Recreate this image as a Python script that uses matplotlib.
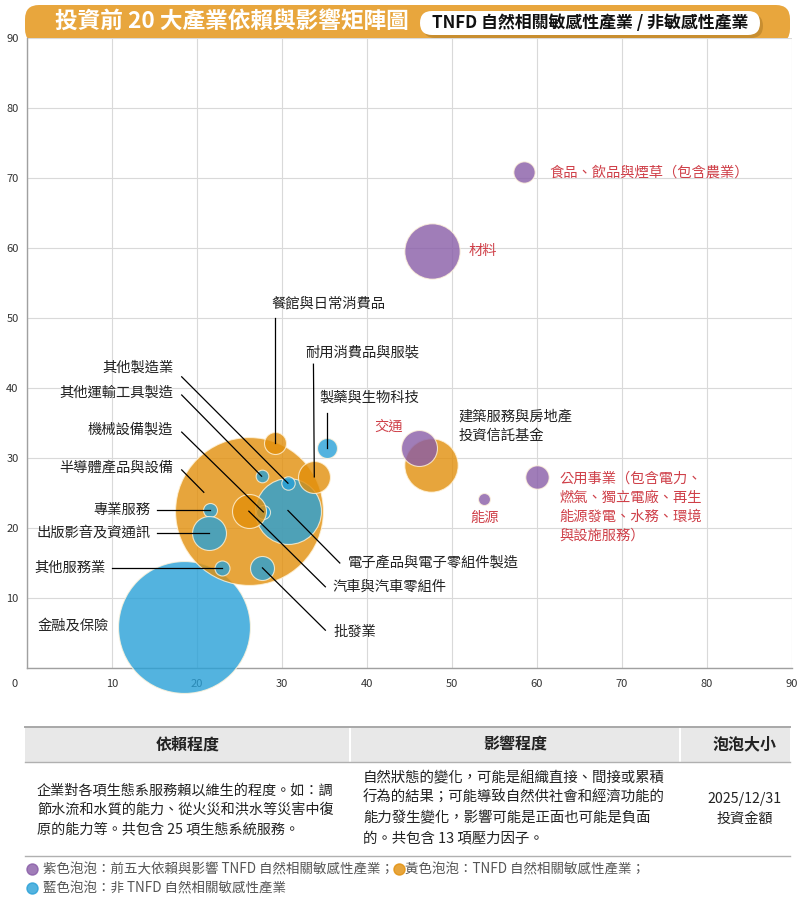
import matplotlib
matplotlib.use("Agg")
import matplotlib.pyplot as plt
from matplotlib.patches import FancyBboxPatch, Rectangle
from matplotlib.lines import Line2D
from matplotlib.transforms import ScaledTranslation

plt.rcParams['font.family'] = ['Noto Sans CJK TC', 'DejaVu Sans']

# ---- data ----
names = ['金融及保險', '半導體產品與設備', '電子產品與電子零組件製造', '餐館與日常消費品',
         '耐用消費品與服裝', '製藥與生物科技', '其他製造業', '其他運輸工具製造',
         '機械設備製造', '汽車與汽車零組件', '專業服務', '出版影音及資通訊',
         '其他服務業', '批發業', '食品、飲品與煙草（包含農業）', '材料',
         '建築服務與房地產', '交通', '公用事業', '能源']
dependency = [18.5, 26.1, 30.7, 29.2, 33.8, 35.3, 30.7, 27.6, 27.8, 26.1,
              21.5, 21.4, 23.0, 27.7, 58.5, 47.7, 47.5, 46.1, 60.0, 53.8]
impact = [5.9, 22.4, 22.5, 32.1, 27.3, 31.4, 26.4, 27.4, 22.3, 22.4,
          22.6, 19.3, 14.3, 14.3, 70.8, 59.6, 29.0, 31.4, 27.3, 24.1]
amount = [4356, 5476, 1089, 121, 256, 100, 45, 40, 49, 289,
          49, 289, 56, 144, 114, 767, 713, 324, 137, 36]
group = ['blue', 'orange', 'blue', 'orange', 'orange', 'blue', 'blue', 'blue',
         'blue', 'orange', 'blue', 'blue', 'blue', 'blue', 'purple', 'purple',
         'orange', 'purple', 'purple', 'purple']

xticks = [0, 10, 20, 30, 40, 50, 60, 70, 80, 90]
yticks = [0, 10, 20, 30, 40, 50, 60, 70, 80, 90]

colors = {'purple': (136/255, 92/255, 167/255),
          'orange': (226/255, 143/255, 11/255),
          'blue': (40/255, 160/255, 215/255)}
red = '#CF4049'
ink = '#222222'

# label layout: name -> (text lines, x, y, ha, color, line start, line end override)
labels = {
    '食品、飲品與煙草（包含農業）': (['食品、飲品與煙草（包含農業）'], 61.4, 70.8, 'left', red, None, None),
    '材料': (['材料'], 51.9, 59.6, 'left', red, None, None),
    '交通': (['交通'], 40.9, 34.4, 'left', red, None, None),
    '建築服務與房地產': (['建築服務與房地產', '投資信託基金'], 50.8, 35.9, 'left', ink, None, None),
    '公用事業': (['公用事業（包含電力、', '燃氣、獨立電廠、再生', '能源發電、水務、環境', '與設施服務）'],
             62.6, 27.1, 'left', red, None, None),
    '能源': (['能源'], 53.8, 21.4, 'center', red, None, None),
    '餐館與日常消費品': (['餐館與日常消費品'], 28.8, 52.1, 'left', ink, (29.2, 50.0), None),
    '耐用消費品與服裝': (['耐用消費品與服裝'], 32.7, 45.1, 'left', ink, (33.7, 43.4), None),
    '製藥與生物科技': (['製藥與生物科技'], 34.4, 38.6, 'left', ink, (35.3, 36.4), None),
    '其他製造業': (['其他製造業'], 17.2, 42.9, 'right', ink, (18.2, 41.6), None),
    '其他運輸工具製造': (['其他運輸工具製造'], 17.2, 39.3, 'right', ink, (18.2, 39.0), None),
    '機械設備製造': (['機械設備製造'], 17.2, 34.1, 'right', ink, (18.2, 33.7), None),
    '半導體產品與設備': (['半導體產品與設備'], 17.2, 28.6, 'right', ink, (18.2, 28.3), (20.8, 25.1)),
    '專業服務': (['專業服務'], 14.5, 22.6, 'right', ink, (15.3, 22.6), None),
    '出版影音及資通訊': (['出版影音及資通訊'], 14.5, 19.3, 'right', ink, (15.3, 19.3), None),
    '其他服務業': (['其他服務業'], 9.2, 14.3, 'right', ink, (10.0, 14.3), None),
    '金融及保險': (['金融及保險'], 1.2, 6.0, 'left', ink, None, None),
    '電子產品與電子零組件製造': (['電子產品與電子零組件製造'], 37.8, 15.0, 'left', ink, (36.8, 15.0), None),
    '汽車與汽車零組件': (['汽車與汽車零組件'], 35.9, 11.6, 'left', ink, (35.1, 11.6), None),
    '批發業': (['批發業'], 36.0, 5.1, 'left', ink, (35.1, 5.4), None),
}

W, H, DPI = 803, 898, 100
fig = plt.figure(figsize=(W / DPI, H / DPI), dpi=DPI)
fig.patch.set_facecolor('white')

ax = fig.add_axes([27 / W, 1 - 668 / H, (792 - 27) / W, (668 - 38) / H])
ax.set_xlim(0, 90)
ax.set_ylim(0, 90)
ax.set_xticks(xticks)
ax.set_yticks(yticks)
ax.set_yticklabels(['' if v == 0 else str(v) for v in yticks])
ax.grid(True, color='#D9D9D9', lw=0.8, zorder=0)
ax.set_axisbelow(True)
for s in ['top', 'right']:
    ax.spines[s].set_visible(False)
for s in ['left', 'bottom']:
    ax.spines[s].set_color('#A0A0A0')
    ax.spines[s].set_linewidth(1.0)
ax.tick_params(length=0, labelsize=8, colors='#333333')
ax.tick_params(axis='x', pad=8)
ax.tick_params(axis='y', pad=6)
lab0 = ax.get_xticklabels()[0]
lab0.set_transform(lab0.get_transform() + ScaledTranslation(-0.12, 0, fig.dpi_scale_trans))

# bubbles: area in pt^2 (1 px = 0.72 pt)
for i, n in enumerate(names):
    ax.scatter(dependency[i], impact[i], s=amount[i] * 2.07, color=colors[group[i]],
               alpha=0.8, edgecolors='#FFF4DC', linewidths=0.8, zorder=3 + i * 0.01,
               clip_on=False)

step = 2.75
for n, (lines, tx, ty, ha, col, lstart, lend) in labels.items():
    for k, t in enumerate(lines):
        ax.text(tx, ty - k * step, t, ha=ha, va='center', fontsize=10.3, color=col, zorder=6)
    if lstart is not None:
        i = names.index(n)
        end = lend if lend is not None else (dependency[i], impact[i])
        ax.plot([lstart[0], end[0]], [lstart[1], end[1]], color='black', lw=0.9, zorder=5)

# ---- title banner ----
inch = fig.dpi_scale_trans
banner = FancyBboxPatch((0.25, 8.55), 7.65, 0.38, boxstyle='round,pad=0,rounding_size=0.14',
                        transform=inch, facecolor='#E8A63D', edgecolor='none', zorder=-1)
fig.patches.append(banner)
ax.set_facecolor('none')
fig.patches.append(Rectangle((0.25, 8.40), 7.65, 0.20, transform=inch,
                             facecolor='white', edgecolor='none', zorder=-0.5))
fig.text(0.55 / 8.03, 8.77 / 8.98, '投資前 20 大產業依賴與影響矩陣圖', color='white',
         fontsize=16.3, fontweight='bold', va='center', ha='left')
shadow = FancyBboxPatch((4.23, 8.60), 3.40, 0.24, boxstyle='round,pad=0,rounding_size=0.12',
                        transform=inch, facecolor='#9A6A1E', alpha=0.4, edgecolor='none')
pill = FancyBboxPatch((4.20, 8.63), 3.40, 0.24, boxstyle='round,pad=0,rounding_size=0.12',
                      transform=inch, facecolor='white', edgecolor='none')
fig.patches.extend([shadow, pill])
fig.text(5.90 / 8.03, 8.75 / 8.98, 'TNFD 自然相關敏感性產業 / 非敏感性產業', color='#111111',
         fontsize=12.2, fontweight='bold', va='center', ha='center')

# ---- table ----
fig.patches.append(Rectangle((0.25, 1.36), 7.65, 0.35, transform=inch,
                             facecolor='#E8E8E8', edgecolor='none'))
for xs in [3.50, 6.80]:
    fig.add_artist(Line2D([xs, xs], [1.36, 1.71], transform=inch, color='white', lw=1.5))
fig.add_artist(Line2D([0.25, 7.90], [1.71, 1.71], transform=inch, color='#A8A8A8', lw=1.4))
fig.add_artist(Line2D([0.25, 7.90], [1.36, 1.36], transform=inch, color='#B0B0B0', lw=1.0))
fig.add_artist(Line2D([0.25, 7.90], [0.42, 0.42], transform=inch, color='#B0B0B0', lw=1.0))

head_y = 1.535
for hx, ht in [(1.88, '依賴程度'), (5.15, '影響程度'), (7.45, '泡泡大小')]:
    fig.text(hx, head_y, ht, transform=inch, ha='center', va='center',
             fontsize=11.5, fontweight='bold', color='#222222')

dep_text = ['企業對各項生態系服務賴以維生的程度。如：調',
            '節水流和水質的能力、從火災和洪水等災害中復',
            '原的能力等。共包含 25 項生態系統服務。']
imp_text = ['自然狀態的變化，可能是組織直接、間接或累積',
            '行為的結果；可能導致自然供社會和經濟功能的',
            '能力發生變化，影響可能是正面也可能是負面',
            '的。共包含 13 項壓力因子。']
size_text = ['2025/12/31', '投資金額']
for k, t in enumerate(dep_text):
    fig.text(0.37, 1.08 - k * 0.197, t, transform=inch, ha='left', va='center',
             fontsize=10.2, color='#222222')
for k, t in enumerate(imp_text):
    fig.text(3.63, 1.20 - k * 0.20, t, transform=inch, ha='left', va='center',
             fontsize=10.4, color='#222222')
for k, t in enumerate(size_text):
    fig.text(7.45, 0.99 - k * 0.20, t, transform=inch, ha='center', va='center',
             fontsize=10.2, color='#222222')

# ---- legend ----
fig.canvas.draw()
renderer = fig.canvas.get_renderer()
legend_rows = [[('purple', '紫色泡泡：前五大依賴與影響 TNFD 自然相關敏感性產業；'),
                ('orange', '黃色泡泡：TNFD 自然相關敏感性產業；')],
               [('blue', '藍色泡泡：非 TNFD 自然相關敏感性產業')]]
for r, row in enumerate(legend_rows):
    ly = 0.29 - r * 0.19
    lx = 0.27
    for j, (g, t) in enumerate(row):
        fig.add_artist(Line2D([lx + 0.05], [ly], transform=inch, marker='o', markersize=8,
                              color=colors[g], alpha=0.8, lw=0))
        gap = 0.16 if j == 0 else 0.11
        txt = fig.text(lx + gap, ly, t, transform=inch, ha='left', va='center',
                       fontsize=9.7, color='#555555')
        bb = txt.get_window_extent(renderer)
        lx = bb.x1 / DPI

fig.savefig('out.png', dpi=DPI)
